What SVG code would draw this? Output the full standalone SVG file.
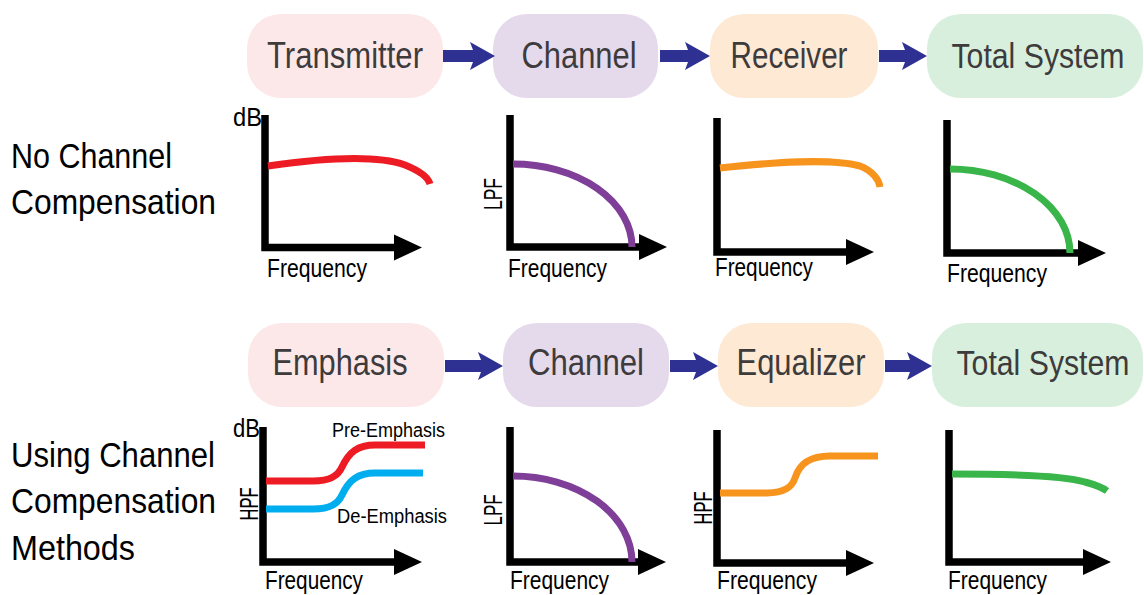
<svg xmlns="http://www.w3.org/2000/svg" width="1144" height="595" viewBox="0 0 1144 595">
<style>
.box text{font-family:"Liberation Sans",Arial,sans-serif;font-size:36px;fill:#3d3b3c;text-anchor:middle}
.lbl{font-family:"Liberation Sans",Arial,sans-serif;font-size:35px;fill:#000}
.ax{fill:none;stroke:#000;stroke-width:7.5;stroke-linejoin:miter}
.cv{fill:none;stroke-width:7;stroke-linecap:butt}
.sm{font-family:"Liberation Sans",Arial,sans-serif;font-size:25px;fill:#000}
.tiny{font-family:"Liberation Sans",Arial,sans-serif;font-size:20px;fill:#000}
.arr{fill:#2e3192}
</style>
<defs>
<marker id="ah" markerUnits="userSpaceOnUse" markerWidth="30" markerHeight="28" refX="2" refY="13" orient="auto" overflow="visible">
<path d="M0,0 L28,13 L0,26 z" fill="#000"/>
</marker>
</defs>
<rect width="1144" height="595" fill="#fff"/>

<g id="labels">
<text class="lbl" x="11" y="168" textLength="161" lengthAdjust="spacingAndGlyphs">No Channel</text>
<text class="lbl" x="11" y="214" textLength="205" lengthAdjust="spacingAndGlyphs">Compensation</text>
<text class="lbl" x="11" y="467" textLength="204" lengthAdjust="spacingAndGlyphs">Using Channel</text>
<text class="lbl" x="11" y="513" textLength="205" lengthAdjust="spacingAndGlyphs">Compensation</text>
<text class="lbl" x="11" y="560" textLength="124" lengthAdjust="spacingAndGlyphs">Methods</text>
</g>

<g id="n-transmitter" class="box"><rect x="247" y="14" width="196" height="84" rx="34" fill="#fde8e9"/><text x="345" y="68" textLength="156" lengthAdjust="spacingAndGlyphs">Transmitter</text></g>
<g id="n-channel1" class="box"><rect x="493" y="14" width="165" height="84" rx="34" fill="#e5d9ec"/><text x="579" y="68" textLength="115" lengthAdjust="spacingAndGlyphs">Channel</text></g>
<g id="n-receiver" class="box"><rect x="710" y="14" width="168" height="84" rx="34" fill="#fde9d4"/><text x="789" y="68" textLength="117" lengthAdjust="spacingAndGlyphs">Receiver</text></g>
<g id="n-total1" class="box"><rect x="927" y="14" width="216" height="84" rx="34" fill="#d8efdd"/><text transform="translate(1038,68) scale(0.84,1)">Total System</text></g>

<g id="n-emphasis" class="box"><rect x="248" y="323" width="196" height="84" rx="34" fill="#fde8e9"/><text x="340" y="375" textLength="135" lengthAdjust="spacingAndGlyphs">Emphasis</text></g>
<g id="n-channel2" class="box"><rect x="503" y="323" width="166" height="84" rx="34" fill="#e5d9ec"/><text x="586" y="375" textLength="116" lengthAdjust="spacingAndGlyphs">Channel</text></g>
<g id="n-equalizer" class="box"><rect x="718" y="323" width="166" height="84" rx="34" fill="#fde9d4"/><text x="801" y="375" textLength="129" lengthAdjust="spacingAndGlyphs">Equalizer</text></g>
<g id="n-total2" class="box"><rect x="932" y="323" width="211" height="84" rx="34" fill="#d8efdd"/><text transform="translate(1043,375) scale(0.84,1)">Total System</text></g>

<g id="connectors" class="arr">
<polygon points="443,50 473,50 470,42 495,56 470,70 473,62 443,62"/>
<polygon points="660,50 688,50 685,42 710,56 685,70 688,62 660,62"/>
<polygon points="879,50 905,50 902,42 927,56 902,70 905,62 879,62"/>
<polygon points="445,360 481,360 478,352 503,366 478,380 481,372 445,372"/>
<polygon points="670,360 696,360 693,352 718,366 693,380 696,372 670,372"/>
<polygon points="885,360 910,360 907,352 932,366 907,380 910,372 885,372"/>
</g>

<g id="g-transmitter">
<path class="ax" d="M265,115 V247.5 H396" marker-end="url(#ah)"/>
<path class="cv" stroke="#ed1c24" d="M268,166 C330,157 380,156 405,165 C420,171 428,177 430,184"/>
<text class="sm" x="233" y="126" textLength="29" lengthAdjust="spacingAndGlyphs">dB</text>
<text class="sm" x="267" y="277" textLength="100" lengthAdjust="spacingAndGlyphs">Frequency</text>
</g>
<g id="g-channel1">
<path class="ax" d="M510,115 V247 H641" marker-end="url(#ah)"/>
<path class="cv" stroke="#7f3f98" d="M513,164 A119,83 0 0 1 632,247"/>
<text class="sm" transform="translate(502,194) rotate(-90)" text-anchor="middle" textLength="32" lengthAdjust="spacingAndGlyphs">LPF</text>
<text class="sm" x="508" y="277" textLength="99" lengthAdjust="spacingAndGlyphs">Frequency</text>
</g>
<g id="g-receiver">
<path class="ax" d="M717,118 V252 H848" marker-end="url(#ah)"/>
<path class="cv" stroke="#f7941d" d="M720,168 C775,162 830,158 860,166 C873,171 879,180 880,187"/>
<text class="sm" x="715" y="276" textLength="98" lengthAdjust="spacingAndGlyphs">Frequency</text>
</g>
<g id="g-total1">
<path class="ax" d="M947,120 V253 H1080" marker-end="url(#ah)"/>
<path class="cv" stroke="#39b54a" d="M950,169 A120,84 0 0 1 1070,253"/>
<text class="sm" x="947" y="282" textLength="100" lengthAdjust="spacingAndGlyphs">Frequency</text>
</g>

<g id="g-emphasis">
<path class="ax" d="M263,427 V562 H396" marker-end="url(#ah)"/>
<path class="cv" stroke="#ed1c24" d="M266,481 H313 C330,481 338,476 342,467 C349,452 358,445 375,445 H425"/>
<path class="cv" stroke="#00aeef" d="M266,509 H313 C330,509 338,504 342,495 C349,480 358,473 375,473 H423"/>
<text class="sm" x="233" y="437" textLength="27" lengthAdjust="spacingAndGlyphs">dB</text>
<text class="tiny" x="332" y="437" textLength="113" lengthAdjust="spacingAndGlyphs">Pre-Emphasis</text>
<text class="tiny" x="337" y="523" textLength="110" lengthAdjust="spacingAndGlyphs">De-Emphasis</text>
<text class="sm" transform="translate(258,504) rotate(-90)" text-anchor="middle" textLength="33" lengthAdjust="spacingAndGlyphs">HPF</text>
<text class="sm" x="265" y="589" textLength="98" lengthAdjust="spacingAndGlyphs">Frequency</text>
</g>
<g id="g-channel2">
<path class="ax" d="M510,427 V562 H640" marker-end="url(#ah)"/>
<path class="cv" stroke="#7f3f98" d="M513,476 A119,86 0 0 1 632,562"/>
<text class="sm" transform="translate(502,510) rotate(-90)" text-anchor="middle" textLength="31" lengthAdjust="spacingAndGlyphs">LPF</text>
<text class="sm" x="510" y="589" textLength="99" lengthAdjust="spacingAndGlyphs">Frequency</text>
</g>
<g id="g-equalizer">
<path class="ax" d="M717,430 V563 H848" marker-end="url(#ah)"/>
<path class="cv" stroke="#f7941d" d="M720,493 H767 C785,493 792,487 795,478 C800,462 812,456 830,456 H878"/>
<text class="sm" transform="translate(712,508) rotate(-90)" text-anchor="middle" textLength="33" lengthAdjust="spacingAndGlyphs">HPF</text>
<text class="sm" x="717" y="589" textLength="100" lengthAdjust="spacingAndGlyphs">Frequency</text>
</g>
<g id="g-total2">
<path class="ax" d="M949,430 V562 H1085" marker-end="url(#ah)"/>
<path class="cv" stroke="#39b54a" d="M952,474 C1020,474 1065,476 1085,482 C1096,485 1103,488 1107,491"/>
<text class="sm" x="948" y="589" textLength="99" lengthAdjust="spacingAndGlyphs">Frequency</text>
</g>
</svg>
